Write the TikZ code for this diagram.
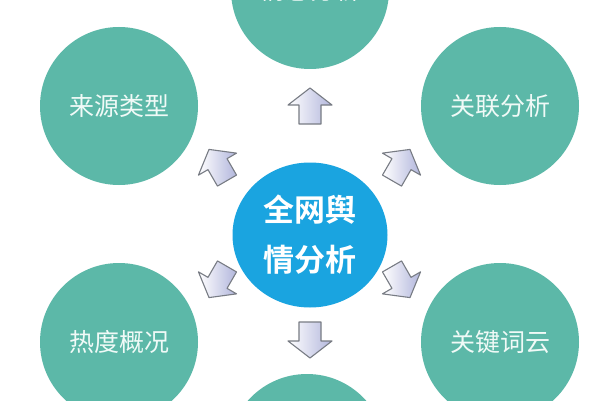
\documentclass[tikz,border=0pt]{standalone}
\usepackage{fontspec}
\newfontfamily\cjk{Noto Sans CJK SC}[BoldFont={Noto Sans CJK SC Bold}]
\usetikzlibrary{shapes.geometric}
\definecolor{bubblec}{RGB}{92,184,168}
\definecolor{hubc}{RGB}{26,164,224}
\definecolor{labelc}{RGB}{240,250,247}
\definecolor{arrowc}{RGB}{178,182,220}
\definecolor{edgec}{RGB}{120,124,132}
\tikzset{
  bubble/.style={circle, fill=bubblec, minimum size=158pt, inner sep=0pt, text=labelc,
    font=\cjk\fontsize{25}{30}\selectfont},
  hub/.style={ellipse, fill=hubc, minimum width=155pt, minimum height=145pt, inner sep=0pt,
    text=white, align=center, font=\cjk\bfseries\fontsize{31}{50}\selectfont},
  arrowbody/.style={left color=white, right color=arrowc, draw=edgec, line width=1.1pt, line join=round},
  barrow/.pic={
    \path[arrowbody] (-18,-11) -- (1,-11) -- (1,-22) -- (18,0) -- (1,22) -- (1,11) -- (-18,11) -- cycle;
  }
}
\begin{document}
\begin{tikzpicture}[x=1pt,y=1pt]
\useasboundingbox (0,0) rectangle (600,400);
\clip (0,0) rectangle (600,400);
\fill[white] (0,0) rectangle (600,400);
% outer bubbles
\node[bubble] (top) at (310,410) {情感分析};
\node[bubble] (src) at (119,294) {来源类型};
\node[bubble] (rel) at (500,294) {关联分析};
\node[bubble] (heat) at (119,58) {热度概况};
\node[bubble] (kw) at (500,58) {关键词云};
\node[bubble] (bot) at (307,-53) {};
% hub
\node[hub] (hub) at (310,165) {全网舆\\情分析};
% block arrows
\pic[rotate=90] at (310,294) {barrow};
\pic[rotate=-90] at (310,60) {barrow};
\pic[rotate=120] at (218,235) {barrow};
\pic[rotate=60] at (401,235) {barrow};
\pic[rotate=240] at (218,118) {barrow};
\pic[rotate=-60] at (401,118) {barrow};
\end{tikzpicture}
\end{document}
